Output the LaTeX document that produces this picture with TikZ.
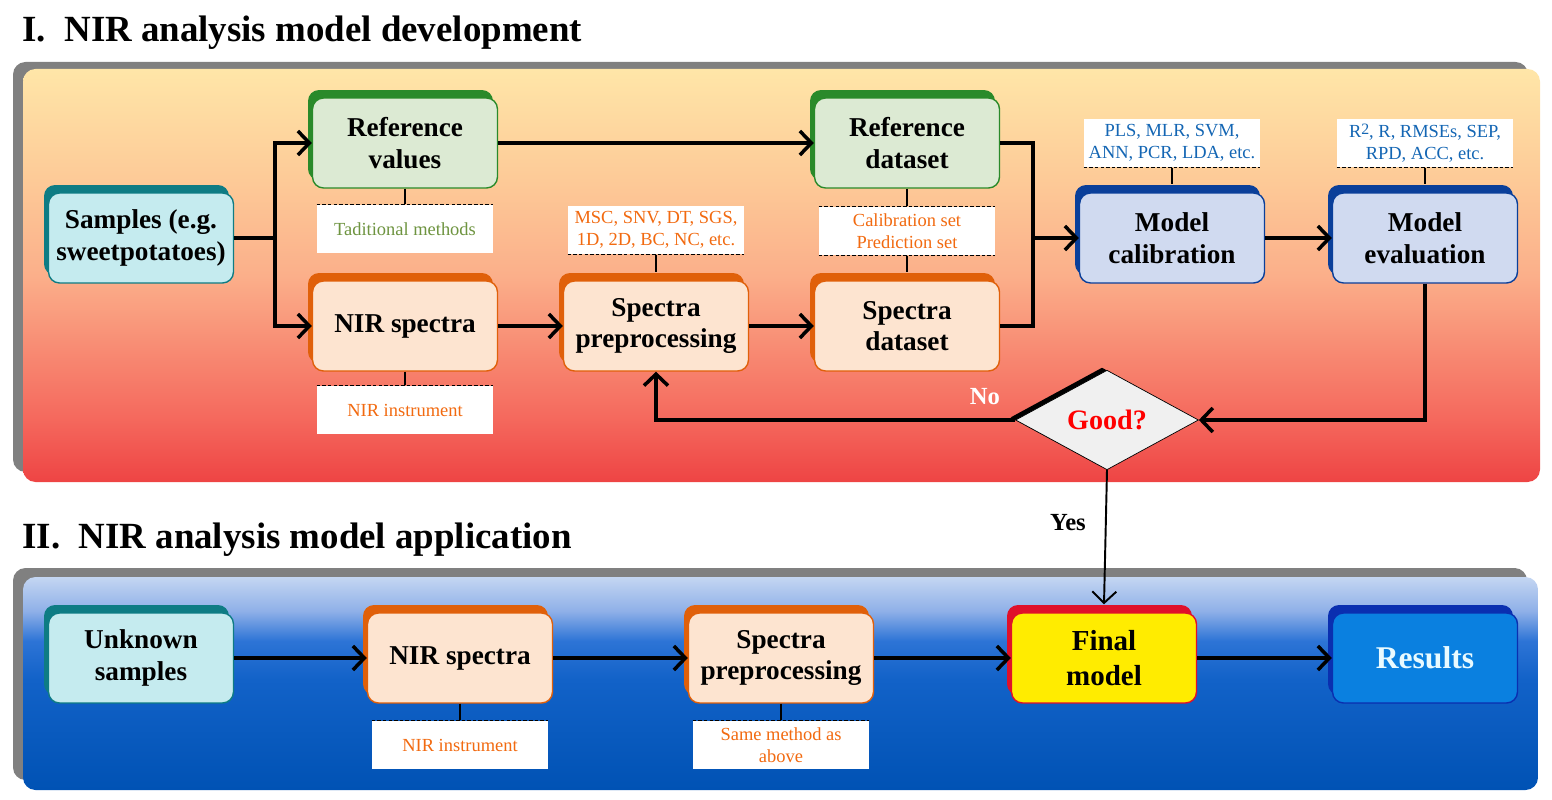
\documentclass[tikz,border=0pt]{standalone}
\usepackage{fontspec}
\setmainfont{Liberation Serif}
\usetikzlibrary{arrows.meta, positioning, shapes.geometric, shadows}

\definecolor{cyanF}{HTML}{C5EBEF}
\definecolor{cyanD}{HTML}{0E7C84}
\definecolor{greenF}{HTML}{DCEAD3}
\definecolor{greenD}{HTML}{2A8A2A}
\definecolor{peachF}{HTML}{FDE4D0}
\definecolor{peachD}{HTML}{E0600A}
\definecolor{blueF}{HTML}{D0DAF0}
\definecolor{blueD}{HTML}{0A3F9A}
\definecolor{yellowF}{HTML}{FFEC00}
\definecolor{redD}{HTML}{E0102A}
\definecolor{resF}{HTML}{0A80E0}
\definecolor{resD}{HTML}{0A2FB0}
\definecolor{resTxt}{HTML}{E8FAFF}
\definecolor{tradTxt}{HTML}{6E9440}
\definecolor{orangeTxt}{HTML}{F26A10}
\definecolor{blueTxt}{HTML}{1466B4}
\definecolor{panelGray}{HTML}{808080}

\definecolor{warmA}{HTML}{FFE6A8}
\definecolor{warmB}{HTML}{FDCB98}
\definecolor{warmC}{HTML}{FBAF8A}
\definecolor{warmD}{HTML}{F56A5E}
\definecolor{warmE}{HTML}{EE4444}
\definecolor{coolA}{HTML}{C4D6F2}
\definecolor{coolB}{HTML}{8FB0E8}
\definecolor{coolC}{HTML}{2D74D6}
\definecolor{coolD}{HTML}{1262C8}
\definecolor{coolE}{HTML}{0052B4}

\pgfdeclareverticalshading{warmpanel}{100bp}{color(0bp)=(warmE); color(25bp)=(warmE);
  color(33bp)=(warmD); color(50bp)=(warmC); color(62bp)=(warmB); color(75bp)=(warmA); color(100bp)=(warmA)}
\pgfdeclareverticalshading{coolpanel}{100bp}{color(0bp)=(coolE); color(25bp)=(coolE);
  color(51bp)=(coolD); color(60bp)=(coolC); color(67bp)=(coolB); color(75bp)=(coolA); color(100bp)=(coolA)}

\begin{document}
\begin{tikzpicture}[x=0.02cm, y=-0.02cm, >={Straight Barb[length=2.3mm, width=4.8mm]},
  stage/.style={rounded corners=0.22cm, minimum width=3.7cm, minimum height=1.8cm,
    align=center, line width=0.8pt, inner sep=2pt,
    font=\fontsize{15.5}{18}\selectfont\bfseries},
  lift/.style={general shadow={fill=#1, shadow xshift=-0.09cm, shadow yshift=0.16cm}},
  cyanbox/.style={stage, fill=cyanF, draw=cyanD, lift=cyanD},
  greenbox/.style={stage, fill=greenF, draw=greenD, lift=greenD},
  peachbox/.style={stage, fill=peachF, draw=peachD, lift=peachD},
  bluebox/.style={stage, fill=blueF, draw=blueD, lift=blueD},
  note/.style={fill=white, minimum width=3.52cm, minimum height=0.97cm, align=center,
    inner sep=1pt, font=\fontsize{10.5}{12.5}\selectfont},
  flow/.style={->, line width=2pt},
  link/.style={line width=2pt},
  stub/.style={line width=0.7pt},
  dashline/.style={line width=0.7pt, dash pattern=on 2pt off 1.2pt}]
  \useasboundingbox (0,0) rectangle (1552,800);

  % panels
  \fill[panelGray, rounded corners=0.25cm] (13,62) rectangle (1528,472);
  \shade[shading=warmpanel, rounded corners=0.25cm] (23,69) rectangle (1540,482);
  \fill[panelGray, rounded corners=0.25cm] (13,568) rectangle (1527,780);
  \shade[shading=coolpanel, rounded corners=0.25cm] (23,577) rectangle (1538,790);

  \node[anchor=base west, inner sep=0, font=\fontsize{21}{25}\selectfont\bfseries] (titleI)
    at (22,42) {I.\ \ NIR analysis model development};
  \node[anchor=base west, inner sep=0, font=\fontsize{21}{25}\selectfont\bfseries] (titleII)
    at (22,548) {II.\ \ NIR analysis model application};

  % I. development
  \node[cyanbox] (samp) at (141,238) {Samples (e.g.\\sweetpotatoes)};
  \node[greenbox] (refv) at (405,143) {Reference\\values};
  \node[peachbox] (nirs) at (405,326) {NIR spectra};
  \node[peachbox] (prep) at (656,326) {Spectra\\preprocessing};
  \node[greenbox] (refd) at (907,143) {Reference\\dataset};
  \node[peachbox] (spd) at (907,326) {Spectra\\dataset};
  \node[bluebox] (mcal) at (1172,238) {Model\\calibration};
  \node[bluebox] (meval) at (1425,238) {Model\\evaluation};
  \node[diamond, draw=black, fill=gray!12, minimum width=3.66cm, minimum height=1.9cm,
    inner sep=0, text=red, font=\fontsize{16}{18}\selectfont\bfseries,
    general shadow={fill=black, shadow xshift=-0.1cm, shadow yshift=0.052cm}]
    (good) at (1107,420) {Good?};

  \node[note, text=tradTxt] (tradm) at (405,229) {Taditional methods};
  \node[note, text=orangeTxt] (instm) at (405,410) {NIR instrument};
  \node[note, text=orangeTxt] (prepm) at (656,230) {MSC, SNV, DT, SGS,\\1D, 2D, BC, NC, etc.};
  \node[note, text=orangeTxt] (setm) at (907,231) {Calibration set\\Prediction set};
  \node[note, text=blueTxt] (calm) at (1172,143) {PLS, MLR, SVM,\\ANN, PCR, LDA, etc.};
  \node[note, text=blueTxt] (evalm) at (1425,143)
    {R\raisebox{0.4ex}{\fontsize{9}{9}\selectfont 2}, R, RMSEs, SEP,\\RPD, ACC, etc.};

  % II. application
  \node[cyanbox] (unk) at (141,658) {Unknown\\samples};
  \node[peachbox] (nirs2) at (460,658) {NIR spectra};
  \node[peachbox] (prep2) at (781,658) {Spectra\\preprocessing};
  \node[stage, fill=yellowF, draw=redD, lift=redD,
    font=\fontsize{16.5}{20}\selectfont\bfseries] (fin) at (1104,658) {Final\\model};
  \node[stage, fill=resF, draw=resD, lift=resD, text=resTxt,
    font=\fontsize{18}{20}\selectfont\bfseries] (res) at (1425,658) {Results};
  \node[note, text=orangeTxt] (instm2) at (460,745) {NIR instrument};
  \node[note, text=orangeTxt] (samem) at (781,745) {Same method as\\above};

  % dashed edges of the notes
  \foreach \n in {tradm, instm, setm, instm2, samem}
    \draw[dashline] (\n.north west) -- (\n.north east);
  \foreach \n in {prepm, setm, calm, evalm}
    \draw[dashline] (\n.south west) -- (\n.south east);

  % stubs
  \draw[stub] (refv.south) -- (tradm.north);
  \draw[stub] (nirs.south) -- (instm.north);
  \draw[stub] (prepm.south) -- ([yshift=0.16cm]prep.north);
  \draw[stub] (refd.south) -- (setm.north);
  \draw[stub] (setm.south) -- ([yshift=0.16cm]spd.north);
  \draw[stub] (calm.south) -- ([yshift=0.16cm]mcal.north);
  \draw[stub] (evalm.south) -- ([yshift=0.16cm]meval.north);
  \draw[stub] (nirs2.south) -- (instm2.north);
  \draw[stub] (prep2.south) -- (samem.north);

  % connectors
  \coordinate (split) at (275,238);
  \coordinate (join) at (1033,238);
  \draw[link] (samp.east) -- (split);
  \draw[flow] (split) |- (refv.west);
  \draw[flow] (split) |- (nirs.west);
  \draw[flow] (refv) -- (refd);
  \draw[flow] (nirs) -- (prep);
  \draw[flow] (prep) -- (spd);
  \draw[link] (refd.east) -| (join);
  \draw[link] (spd.east) -| (join);
  \draw[flow] (join) -- (mcal.west);
  \draw[flow] (mcal) -- (meval);
  \draw[flow] (meval.south) |- (good.east);
  \draw[flow] (good.west) -| (prep.south);
  \node[text=white, font=\fontsize{14}{16}\selectfont\bfseries] (no) at (985,397) {No};

  \draw[->, line width=1.1pt] (good.south) -- ([yshift=0.16cm]fin.north);
  \node[font=\fontsize{14}{16}\selectfont\bfseries] (yes) at (1068,523) {Yes};

  \draw[flow] (unk) -- (nirs2);
  \draw[flow] (nirs2) -- (prep2);
  \draw[flow] (prep2) -- (fin);
  \draw[flow] (fin) -- (res);
\end{tikzpicture}
\end{document}
